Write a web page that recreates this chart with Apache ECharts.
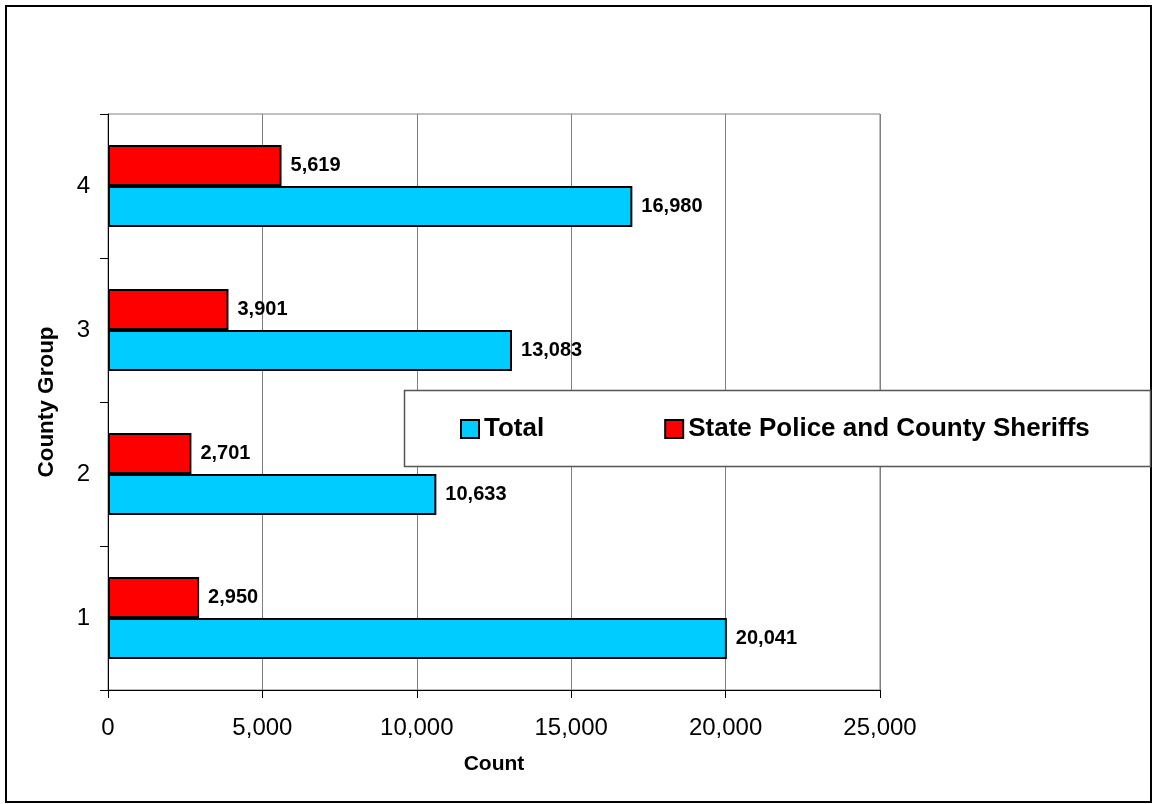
<!DOCTYPE html>
<html>
<head>
<meta charset="utf-8">
<script src="https://cdn.jsdelivr.net/npm/echarts@6/dist/echarts.min.js"></script>
<style>
html,body{margin:0;padding:0;background:#fff;}
#chart{width:1153px;height:804px;}
</style>
</head>
<body>
<div id="chart"></div>
<script>
const categories = ['1', '2', '3', '4'];
const totalValues = [20041, 10633, 13083, 16980];
const stateValues = [2950, 2701, 3901, 5619];
const seriesNames = ['Total', 'State Police and County Sheriffs'];
const xTicks = { min: 0, max: 25000, interval: 5000 };
const xAxisTitle = 'Count';
const yAxisTitle = 'County Group';

const FONT = "'Liberation Sans', Arial, sans-serif";
const fmt = v => Number(v).toLocaleString('en-US');

const chart = echarts.init(document.getElementById('chart'), null, { renderer: 'canvas' });
chart.setOption({
  animation: false,
  backgroundColor: '#fff',
  textStyle: { fontFamily: FONT },
  grid: {
    left: 108, right: 273, top: 114, bottom: 114,
    show: true, borderColor: '#808080', borderWidth: 1, backgroundColor: 'transparent'
  },
  graphic: [
    { type: 'rect', z: 100, shape: { x: 6, y: 6, width: 1145, height: 796 },
      style: { fill: 'none', stroke: '#000', lineWidth: 2 } },
    { type: 'rect', z: 100, shape: { x: 404.5, y: 390.5, width: 746, height: 76 },
      style: { fill: '#fff', stroke: '#555', lineWidth: 1.5 } }
  ],
  legend: {
    z: 200,
    left: 460, top: 416,
    padding: 0,
    itemGap: 120,
    itemWidth: 18, itemHeight: 18,
    icon: 'rect',
    data: seriesNames,
    textStyle: { fontFamily: FONT, fontWeight: 'bold', fontSize: 26, color: '#000', padding: [0,0,0,0] },
    itemStyle: { borderColor: '#000', borderWidth: 2 }
  },
  xAxis: {
    type: 'value',
    min: xTicks.min, max: xTicks.max, interval: xTicks.interval,
    name: xAxisTitle, nameLocation: 'middle', nameGap: 64,
    nameTextStyle: { fontFamily: FONT, fontWeight: 'bold', fontSize: 21, color: '#000' },
    axisLine: { show: true, lineStyle: { color: '#000', width: 1 } },
    axisTick: { show: true, length: 8, lineStyle: { color: '#000' } },
    axisLabel: { formatter: fmt, fontFamily: FONT, fontSize: 24, color: '#000', margin: 26 },
    splitLine: { show: true, lineStyle: { color: '#808080', width: 1 } }
  },
  yAxis: {
    type: 'category',
    data: categories,
    name: yAxisTitle, nameLocation: 'middle', nameGap: 50, nameRotate: 90,
    nameTextStyle: { fontFamily: FONT, fontWeight: 'bold', fontSize: 22.5, color: '#000' },
    axisLine: { show: true, lineStyle: { color: '#000', width: 1 } },
    axisTick: { show: true, length: 8, lineStyle: { color: '#000' } },
    axisLabel: { fontFamily: FONT, fontSize: 24, color: '#000', margin: 18 },
    splitLine: { show: false }
  },
  series: [
    {
      name: seriesNames[1], type: 'bar', data: stateValues,
      barWidth: 41, barGap: '0%',
      itemStyle: { color: '#FF0000', borderColor: '#000', borderWidth: 2 },
      label: { show: true, position: 'right', distance: 9, formatter: p => fmt(p.value),
        fontFamily: FONT, fontWeight: 'bold', fontSize: 20, color: '#000' }
    },
    {
      name: seriesNames[0], type: 'bar', data: totalValues,
      barWidth: 41, barGap: '0%',
      itemStyle: { color: '#00CCFF', borderColor: '#000', borderWidth: 2 },
      label: { show: true, position: 'right', distance: 9, formatter: p => fmt(p.value),
        fontFamily: FONT, fontWeight: 'bold', fontSize: 20, color: '#000' }
    }
  ]
});
</script>
</body>
</html>
